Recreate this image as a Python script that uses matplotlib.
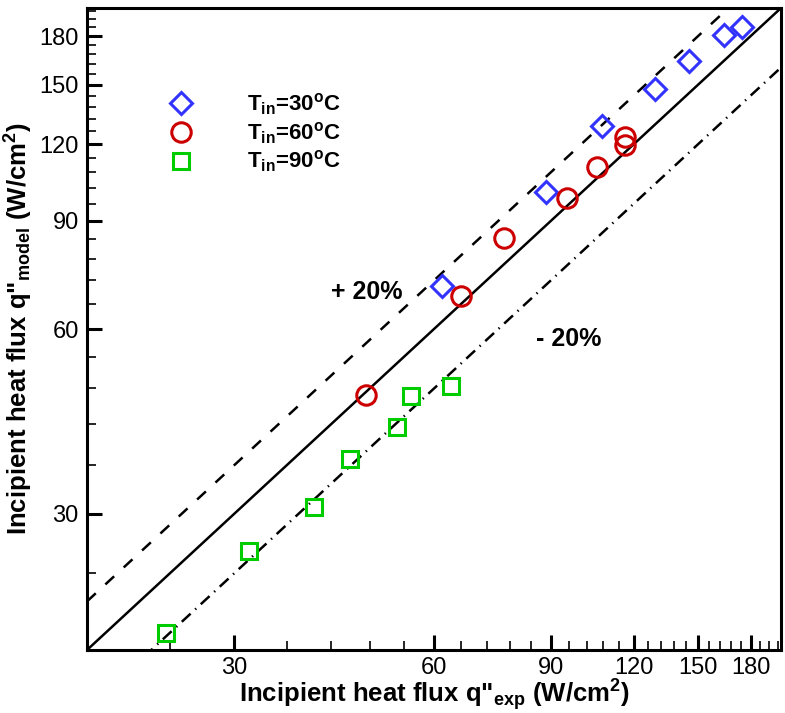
import matplotlib
matplotlib.use("Agg")
import matplotlib.pyplot as plt
from matplotlib.ticker import FixedLocator, NullFormatter, FixedFormatter

plt.rcParams['font.family'] = ['Liberation Sans', 'DejaVu Sans']
plt.rcParams['mathtext.fontset'] = 'custom'
plt.rcParams['mathtext.rm'] = 'Liberation Sans'
plt.rcParams['mathtext.bf'] = 'Liberation Sans:bold'
plt.rcParams['mathtext.default'] = 'bf'
plt.rcParams['lines.scale_dashes'] = False

# incipient heat flux, experiment vs model (W/cm2)
exp_30 = [61.6, 88.4, 107.4, 129.2, 145.4, 164.1, 174.9]
mod_30 = [70.6, 100.4, 128.6, 147.8, 164.0, 180.4, 186.5]

exp_60 = [47.4, 65.9, 76.5, 95.1, 105.6, 116.4, 116.4]
mod_60 = [46.9, 67.9, 84.5, 98.1, 110.3, 123.4, 119.6]

exp_90 = [23.7, 31.6, 39.5, 44.9, 52.7, 55.4, 63.6]
mod_90 = [19.2, 26.1, 30.8, 36.9, 41.5, 46.7, 48.5]

lims = [18, 200]
major = [30, 60, 90, 120, 150, 180]
minor = [24, 36, 42, 48, 54, 66, 72, 78, 84, 96, 102, 108, 114,
         126, 132, 138, 144, 156, 162, 168, 174, 186, 192, 198]

fig = plt.figure(figsize=(7.85, 7.13), dpi=100)
ax = fig.add_axes([87/785, 63/713, 694/785, 642/713])
ax.set_xscale('log')
ax.set_yscale('log')

# parity line and +/-20% bands
ax.plot(lims, lims, color='k', lw=1.8)
ax.plot(lims, [v*1.2 for v in lims], color='k', lw=1.8, dashes=(8.6, 9.4))
ax.plot(lims, [v*0.8 for v in lims], color='k', lw=1.8, dashes=(8.6, 4.5, 1.0, 4.5))

mk = dict(ls='none', mfc='none', mew=2.2)
ax.plot(exp_30, mod_30, marker='D', ms=11, mec='#3333ff', label=r'T$_{in}$=30$^{o}$C', **mk)
ax.plot(exp_60, mod_60, marker='o', ms=14, mec='#cc0000', label=r'T$_{in}$=60$^{o}$C', **mk)
ax.plot(exp_90, mod_90, marker='s', ms=11, mec='#00cc00', label=r'T$_{in}$=90$^{o}$C', **mk)

ax.set_xlim(lims)
ax.set_ylim(lims)

for axis in (ax.xaxis, ax.yaxis):
    axis.set_major_locator(FixedLocator(major))
    axis.set_major_formatter(FixedFormatter([str(v) for v in major]))
    axis.set_minor_locator(FixedLocator(minor))
    axis.set_minor_formatter(NullFormatter())

ax.tick_params(which='major', direction='in', length=11, width=2.2, labelsize=17, pad=6)
ax.tick_params(axis='x', which='major', pad=5)
ax.tick_params(which='minor', direction='in', length=6.5, width=1.2)
for s in ax.spines.values():
    s.set_linewidth(2.2)

ax.set_xlabel(r'Incipient heat flux q"$_{exp}$ (W/cm$^{2}$)', fontsize=18.5, fontweight='bold', labelpad=-1)
ax.set_ylabel(r'Incipient heat flux q"$_{model}$ (W/cm$^{2}$)', fontsize=18.5, fontweight='bold', labelpad=3)

ax.text(47.5, 68.9, '+ 20%', fontsize=18, fontweight='bold', ha='center', va='center')
ax.text(95.8, 57.8, '- 20%', fontsize=18, fontweight='bold', ha='center', va='center')

ax.legend(loc='upper left', bbox_to_anchor=(0.087, 0.888), frameon=False, numpoints=1,
          prop={'size': 16, 'weight': 'bold'}, handlelength=2.0, handletextpad=2.0,
          labelspacing=0.15, borderpad=0)

fig.savefig('out.png', dpi=100)
